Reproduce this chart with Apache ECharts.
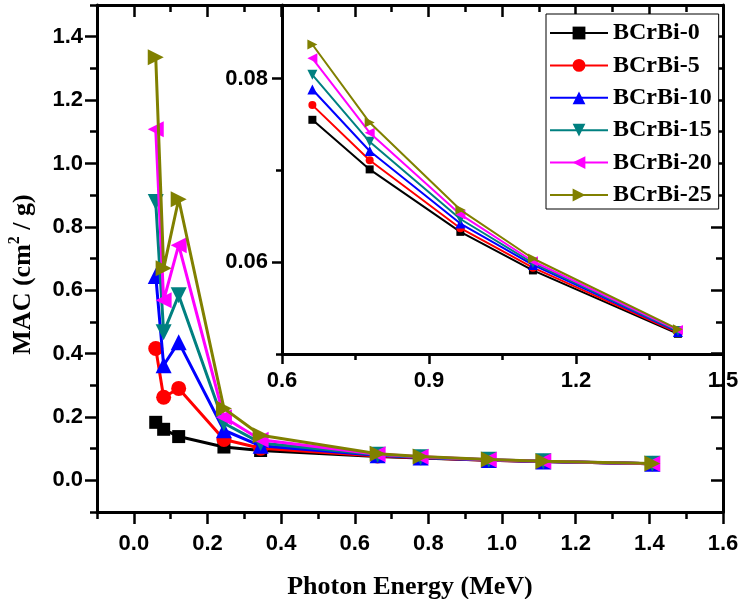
<!DOCTYPE html>
<html>
<head>
<meta charset="utf-8">
<script src="https://cdn.jsdelivr.net/npm/echarts@6/dist/echarts.min.js"></script>
<style>
  html, body { margin: 0; padding: 0; background: #fff; }
  #main { width: 746px; height: 599px; }
</style>
</head>
<body>
<div id="main"></div>
<script>
// photon energies (MeV)
var energy = [0.0595, 0.081, 0.1218, 0.2447, 0.3443, 0.662, 0.7789, 0.964, 1.1121, 1.408];

// MAC (cm2/g) per sample
var bcrbi0  = [0.183, 0.161, 0.138, 0.105, 0.094, 0.0755, 0.0701, 0.0633, 0.0591, 0.0522];
var bcrbi5  = [0.416, 0.262, 0.290, 0.129, 0.101, 0.0771, 0.0711, 0.0637, 0.0594, 0.0523];
var bcrbi10 = [0.645, 0.363, 0.436, 0.158, 0.109, 0.0788, 0.0721, 0.0642, 0.0597, 0.0524];
var bcrbi15 = [0.878, 0.467, 0.584, 0.180, 0.118, 0.0804, 0.0731, 0.0647, 0.0599, 0.0525];
var bcrbi20 = [1.108, 0.568, 0.742, 0.199, 0.128, 0.0822, 0.0741, 0.0652, 0.0601, 0.0526];
var bcrbi25 = [1.335, 0.669, 0.887, 0.227, 0.142, 0.0837, 0.0752, 0.0657, 0.0604, 0.0527];

var names = ['BCrBi-0', 'BCrBi-5', 'BCrBi-10', 'BCrBi-15', 'BCrBi-20', 'BCrBi-25'];

// tick values
var mainXTicks = [0, 0.2, 0.4, 0.6, 0.8, 1.0, 1.2, 1.4, 1.6];
var mainXMinor = [-0.1, 0.1, 0.3, 0.5, 0.7, 0.9, 1.1, 1.3, 1.5];
var mainYTicks = [0, 0.2, 0.4, 0.6, 0.8, 1.0, 1.2, 1.4];
var mainYMinor = [-0.1, 0.1, 0.3, 0.5, 0.7, 0.9, 1.1, 1.3, 1.5];
var insetXTicks = [0.6, 0.9, 1.2, 1.5];
var insetXMinor = [0.75, 1.05, 1.35];
var insetYTicks = [0.06, 0.08];
var insetYMinor = [0.05, 0.07];

var allData = [bcrbi0, bcrbi5, bcrbi10, bcrbi15, bcrbi20, bcrbi25];
var colors = ['#000000', '#ff0000', '#0000ff', '#008080', '#ff00ff', '#808000'];
var symbols = ['rect', 'circle', 'triangle', 'triangle', 'triangle', 'triangle'];
var rotates = [0, 0, 0, 180, 90, -90];

var myChart = echarts.init(document.getElementById('main'));

var tickFont = { fontFamily: 'Liberation Sans', fontWeight: 'bold', fontSize: 22, color: '#000' };

function axis(o) {
    var a = {
        type: 'value',
        gridIndex: o.grid,
        position: o.pos,
        min: o.min,
        max: o.max,
        axisLine: { show: !!o.line, onZero: false, lineStyle: { color: '#000', width: 3 } },
        axisTick: {
            show: true,
            inside: !!o.inside,
            length: o.len,
            customValues: o.ticks,
            lineStyle: { color: '#000', width: 2.5 }
        },
        axisLabel: { show: false },
        splitLine: { show: false }
    };
    if (o.labels) {
        a.axisLabel = Object.assign({
            show: true,
            customValues: o.ticks,
            margin: o.margin,
            formatter: function (v) { return v.toFixed(o.digits); }
        }, tickFont);
    }
    return a;
}

function pairs(arr, from) {
    var out = [];
    for (var i = from; i < energy.length; i++) out.push([energy[i], arr[i]]);
    return out;
}

var series = [];
allData.forEach(function (d, i) {
    series.push({
        name: names[i], type: 'line',
        xAxisIndex: 0, yAxisIndex: 0,
        data: pairs(d, 0),
        symbol: symbols[i], symbolRotate: rotates[i],
        symbolSize: i === 0 ? 13 : (i === 1 ? 15 : 16),
        itemStyle: { color: colors[i] },
        lineStyle: { color: colors[i], width: 3 },
        z: 2 + i
    });
});
allData.forEach(function (d, i) {
    series.push({
        name: names[i], type: 'line',
        xAxisIndex: 4, yAxisIndex: 4,
        data: pairs(d, 5),
        symbol: symbols[i], symbolRotate: rotates[i],
        symbolSize: i < 2 ? 8 : 10,
        itemStyle: { color: colors[i] },
        lineStyle: { color: colors[i], width: 2 },
        z: 2 + i
    });
});

var xName = Object.assign(axis({ grid: 0, pos: 'bottom', min: -0.1, max: 1.6, line: true, len: 12, ticks: mainXTicks, labels: true, margin: 21, digits: 1 }), {
    name: 'Photon Energy (MeV)',
    nameLocation: 'middle',
    nameGap: 62,
    nameTextStyle: { fontFamily: 'Liberation Serif', fontWeight: 'bold', fontSize: 26, color: '#000' }
});

var yName = Object.assign(axis({ grid: 0, pos: 'left', min: -0.1, max: 1.5, line: true, len: 12, ticks: mainYTicks, labels: true, margin: 14, digits: 1 }), {
    name: '{t|MAC (cm}{s|2}{t| / g)}',
    nameLocation: 'middle',
    nameGap: 58,
    nameTextStyle: {
        padding: [0, 32, 0, 0],
        rich: {
            t: { fontFamily: 'Liberation Serif', fontWeight: 'bold', fontSize: 26, color: '#000' },
            s: { fontFamily: 'Liberation Serif', fontWeight: 'bold', fontSize: 16, color: '#000', padding: [0, 0, 16, 0] }
        }
    }
});

myChart.setOption({
    animation: false,
    backgroundColor: '#fff',
    grid: [
        { left: 97, right: 23, top: 5, bottom: 87, outerBoundsMode: 'none' },
        { left: 282, right: 23, top: 5, bottom: 245, outerBoundsMode: 'none' }
    ],
    legend: {
        data: names,
        orient: 'vertical',
        left: 546,
        top: 14,
        padding: [7, 7, 2, 3],
        itemGap: 8.4,
        itemWidth: 58,
        itemHeight: 16,
        borderColor: '#000',
        borderWidth: 1,
        backgroundColor: '#fff',
        textStyle: { fontFamily: 'Liberation Serif', fontWeight: 'bold', fontSize: 24, lineHeight: 24, color: '#000' }
    },
    xAxis: [
        xName,
        axis({ grid: 0, pos: 'bottom', min: -0.1, max: 1.6, len: 7, ticks: mainXMinor }),
        axis({ grid: 0, pos: 'top', min: -0.1, max: 1.6, line: true, inside: true, len: 12, ticks: mainXTicks }),
        axis({ grid: 0, pos: 'top', min: -0.1, max: 1.6, inside: true, len: 7, ticks: mainXMinor }),
        axis({ grid: 1, pos: 'bottom', min: 0.6, max: 1.5, line: true, len: 10, ticks: insetXTicks, labels: true, margin: 16, digits: 1 }),
        axis({ grid: 1, pos: 'bottom', min: 0.6, max: 1.5, len: 6, ticks: insetXMinor })
    ],
    yAxis: [
        yName,
        axis({ grid: 0, pos: 'left', min: -0.1, max: 1.5, len: 7, ticks: mainYMinor }),
        axis({ grid: 0, pos: 'right', min: -0.1, max: 1.5, line: true, inside: true, len: 12, ticks: mainYTicks }),
        axis({ grid: 0, pos: 'right', min: -0.1, max: 1.5, inside: true, len: 7, ticks: mainYMinor }),
        axis({ grid: 1, pos: 'left', min: 0.05, max: 0.088, line: true, len: 10, ticks: insetYTicks, labels: true, margin: 14, digits: 2 }),
        axis({ grid: 1, pos: 'left', min: 0.05, max: 0.088, len: 6, ticks: insetYMinor })
    ],
    series: series
});
</script>
</body>
</html>
